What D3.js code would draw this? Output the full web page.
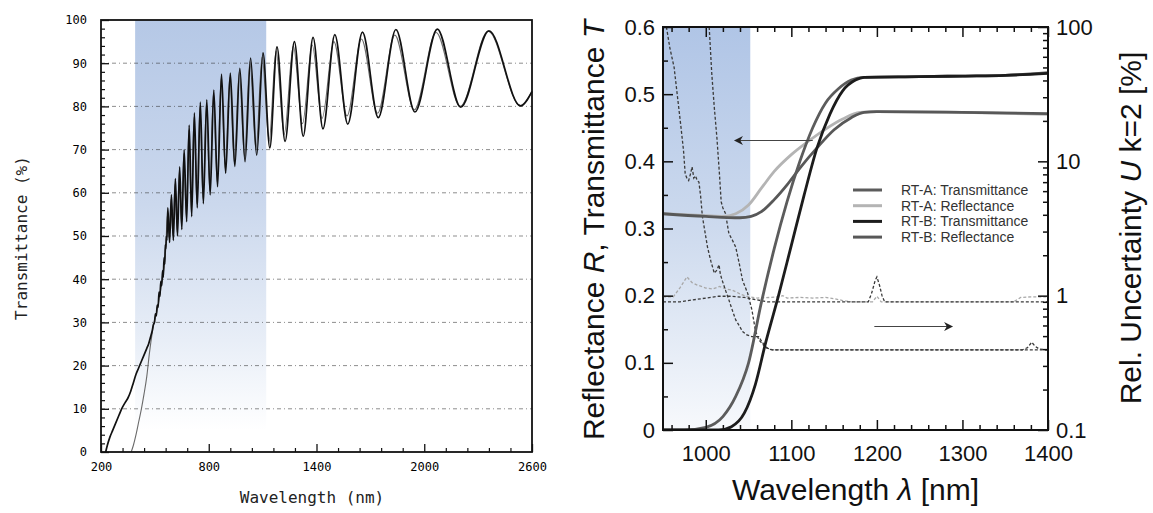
<!DOCTYPE html>
<html><head><meta charset="utf-8">
<script src="https://cdn.jsdelivr.net/npm/d3@7"></script>
<style>html,body{margin:0;padding:0;background:#fff;}svg{display:block;}</style>
</head><body>
<script>
// ---------- LEFT CHART DATA (wavelength nm, transmittance %) ----------
const leftXTicks = [200, 800, 1400, 2000, 2600];
const leftYTicks = [0,10,20,30,40,50,60,70,80,90,100];
const leftShade = [390, 1120];
const leftThick = [[226,0],[235,1.5],[250,3.5],[265,5],[280,6.5],[300,8.5],[315,10],[335,11.5],[350,12.5],[365,14],[380,16],[395,18],[410,19.5],[425,21],[440,22.5],[455,24],[465,25],[475,26.5],[485,28],[492,29.5],[498,30],[503,32],[508,31.5],[513,34],[518,33.5],[523,37],[528,36],[533,39.5],[538,38.5],[543,42],[547,40.5],[551,45],[555,43.5],[558,48],[561,47],[564,50],[567,49],[572,56.5],[582,48.5],[592,59.5],[603,49],[614,63.3],[626,50],[638,66],[650,51.5],[663,70],[677,53.3],[691,75.7],[705,54.5],[720,78.5],[736,56.5],[753,81],[770,57.5],[789,81.5],[808,59.5],[828,83.8],[849,61.4],[871,87.5],[894,64.5],[920,87.7],[945,66.1],[973,88.8],[1002,67.2],[1033,91.2],[1067,68.7],[1102,92.4],[1140,70.4],[1180,93.8],[1225,71.9],[1277,95],[1326,73.1],[1381,96],[1436,74.8],[1502,96.6],[1574,75.9],[1656,97.2],[1744,77.4],[1842,97.8],[1948,78.7],[2073,97.9],[2203,79.8],[2360,97.5],[2536,80.1],[2600,83.5]];
const leftThin = [[368,0],[380,1.5],[395,4],[410,7],[425,10],[440,13.5],[455,17.5],[470,23],[485,27.5],[498,30.5],[508,32],[518,34],[528,36.5],[538,39],[547,41.5],[555,44],[561,47.5],[570,55],[580,49.5],[590,58.5],[601,50],[612,62],[624,51],[636,65],[648,52.5],[661,69],[675,54.5],[689,74.5],[703,55.5],[718,77.5],[734,57.5],[751,80],[768,58.5],[787,80.5],[806,60.5],[826,83],[847,62.5],[869,86.5],[892,65.5],[917,86.8],[942,67.2],[970,88],[999,68.5],[1029,90.3],[1063,70],[1097,91.4],[1136,72],[1175,92.8],[1220,73.5],[1271,94],[1322,76],[1376,94.2],[1431,77.2],[1497,95],[1570,77.8],[1650,95.6],[1740,78.4],[1836,96.5],[1945,79.2],[2066,97.1],[2200,80],[2356,97.4],[2534,80.2],[2600,83.4]];

// ---------- RIGHT CHART DATA ----------
const rightXTicks = [1000, 1100, 1200, 1300, 1400];
const rightYTicks = [0, 0.1, 0.2, 0.3, 0.4, 0.5, 0.6];
const rightUTicks = [0.1, 1, 10, 100];
const rightShade = [950, 1052];
const seriesNames = ["RT-A: Transmittance", "RT-A: Reflectance", "RT-B: Transmittance", "RT-B: Reflectance"];
const rtaT = [[950,0],[975,0],[1000,0.004],[1020,0.02],[1035,0.05],[1050,0.1],[1065,0.19],[1080,0.27],[1095,0.34],[1110,0.4],[1125,0.45],[1140,0.487],[1155,0.508],[1170,0.521],[1185,0.525],[1250,0.526],[1300,0.527],[1350,0.528],[1400,0.532]];
const rtaR = [[950,0.322],[1000,0.319],[1020,0.318],[1035,0.322],[1050,0.335],[1065,0.36],[1080,0.385],[1100,0.41],[1120,0.43],[1140,0.448],[1160,0.463],[1180,0.473],[1200,0.474],[1300,0.473],[1400,0.47]];
const rtbT = [[950,0],[1015,0],[1030,0.005],[1045,0.025],[1058,0.068],[1070,0.13],[1085,0.2],[1100,0.275],[1115,0.35],[1130,0.42],[1145,0.47],[1160,0.505],[1175,0.521],[1185,0.525],[1250,0.526],[1300,0.527],[1350,0.528],[1400,0.531]];
const rtbR = [[950,0.322],[1000,0.318],[1040,0.316],[1053,0.318],[1065,0.325],[1080,0.343],[1095,0.365],[1110,0.39],[1130,0.42],[1150,0.447],[1170,0.465],[1185,0.473],[1200,0.474],[1300,0.473],[1400,0.471]];
const unc1 = [[1004,100],[1007,45],[1010,25],[1013,15],[1016,8],[1018,5],[1020,4.5],[1023,4.1],[1027,2.9],[1031,2.6],[1035,2.3],[1039,1.75],[1043,1.3],[1049,1.04],[1054,0.78],[1058,0.55],[1062,0.47],[1066,0.44],[1070,0.41],[1078,0.395],[1200,0.395],[1370,0.395],[1376,0.41],[1381,0.45],[1385,0.42],[1390,0.4],[1400,0.395]];
const unc2 = [[954,100],[958,70],[963,50],[967,30],[971,18],[974,12],[976,8],[978,7.5],[980,7.2],[982,8],[984,9.1],[986,7.5],[988,7.8],[990,7.2],[992,7],[994,5.5],[996,3.9],[999,3],[1002,2.3],[1006,1.8],[1010,1.47],[1013,1.55],[1015.5,1.7],[1017,1.45],[1019,1.31],[1023,1.1],[1027,0.93],[1031,0.78],[1035,0.66],[1039,0.6],[1043,0.54],[1048,0.51],[1054,0.495],[1062,0.495],[1066,0.45],[1070,0.417],[1074,0.4],[1078,0.395],[1400,0.395]];
const unc3 = [[950,0.9],[970,0.9],[985,0.93],[1000,0.96],[1015,0.99],[1030,0.99],[1045,0.97],[1060,0.93],[1072,0.9],[1190,0.9],[1194,1.05],[1198,1.3],[1200,1.38],[1203,1.2],[1206,1.0],[1209,0.9],[1400,0.9]];
const unc4 = [[950,0.98],[962,0.98],[970,1.15],[978,1.38],[984,1.25],[990,1.2],[1000,1.14],[1008,1.12],[1016,1.17],[1024,1.12],[1031,1.1],[1040,1.03],[1047,0.99],[1060,0.96],[1075,0.97],[1085,0.98],[1090,1.0],[1095,0.96],[1110,0.97],[1125,0.96],[1140,0.97],[1150,0.95],[1160,0.92],[1170,0.9],[1195,0.9],[1200,0.99],[1205,0.9],[1360,0.9],[1368,0.97],[1380,0.98],[1400,0.98]];
const arrowLeft = [[1125,0.431],[1034,0.431]];
const arrowRight = [[1197,0.154],[1288,0.154]];

const W = 1153, H = 513;
const svg = d3.select("body").append("svg").attr("width", W).attr("height", H);
svg.append("rect").attr("width", W).attr("height", H).attr("fill", "#fff");
const defs = svg.append("defs");

// ================= LEFT CHART =================
const L = {x0:101, x1:532, y0:20, y1:452};
const xL = d3.scaleLinear().domain([200, 2600]).range([L.x0, L.x1]);
const yL = d3.scaleLinear().domain([0, 100]).range([L.y1, L.y0]);
const monoFont = "'DejaVu Sans Mono', 'Liberation Mono', monospace";

const gL = defs.append("linearGradient").attr("id","gradL").attr("x1",0).attr("y1",0).attr("x2",0).attr("y2",1);
gL.append("stop").attr("offset","0").attr("stop-color","rgb(181,200,230)");
gL.append("stop").attr("offset","0.45").attr("stop-color","rgb(203,216,237)");
gL.append("stop").attr("offset","0.78").attr("stop-color","rgb(232,238,247)");
gL.append("stop").attr("offset","1").attr("stop-color","rgb(255,255,255)");
svg.append("rect").attr("x", xL(leftShade[0])).attr("y", yL(100))
  .attr("width", xL(leftShade[1]) - xL(leftShade[0])).attr("height", yL(5) - yL(100))
  .attr("fill", "url(#gradL)");

// gridlines
svg.append("g").selectAll("line").data(leftYTicks.filter(d => d > 0 && d < 100)).join("line")
  .attr("x1", L.x0).attr("x2", L.x1).attr("y1", d => yL(d)).attr("y2", d => yL(d))
  .attr("stroke", "#333").attr("stroke-width", 1).attr("stroke-dasharray", "4,3,1,3").attr("opacity", 0.55);

const lineL = d3.line().x(d => xL(d[0])).y(d => yL(d[1])).curve(d3.curveMonotoneX);
svg.append("path").attr("d", lineL(leftThin)).attr("fill","none").attr("stroke","#6a6a6a").attr("stroke-width",1.1);
svg.append("path").attr("d", lineL(leftThick)).attr("fill","none").attr("stroke","#111").attr("stroke-width",1.7);

// axes
const axL = svg.append("g").attr("transform", `translate(${L.x0},0)`)
  .call(d3.axisLeft(yL).tickValues(leftYTicks).tickSizeInner(-8).tickSizeOuter(0).tickPadding(14).tickFormat(d3.format("d")));
axL.select(".domain").remove();
axL.selectAll("line").attr("stroke","#111").attr("stroke-width",1.3);
axL.selectAll("text").attr("font-family", monoFont).attr("font-size", 12).attr("fill","#000");
const axLm = svg.append("g").attr("transform", `translate(${L.x0},0)`)
  .call(d3.axisLeft(yL).tickValues(d3.range(0, 101, 2).filter(d => d % 10 !== 0)).tickSizeInner(-4).tickSizeOuter(0).tickFormat(""));
axLm.select(".domain").remove();
axLm.selectAll("line").attr("stroke","#111").attr("stroke-width",1.2);

const axB = svg.append("g").attr("transform", `translate(0,${L.y1})`)
  .call(d3.axisBottom(xL).tickValues(leftXTicks).tickSizeInner(-8).tickSizeOuter(0).tickPadding(10).tickFormat(d3.format("d")));
axB.select(".domain").remove();
axB.selectAll("line").attr("stroke","#111").attr("stroke-width",1.3);
axB.selectAll("text").attr("font-family", monoFont).attr("font-size", 12).attr("fill","#000");
const axBm = svg.append("g").attr("transform", `translate(0,${L.y1})`)
  .call(d3.axisBottom(xL).tickValues(d3.range(320, 2600, 120).filter(d => (d - 200) % 600 !== 0)).tickSizeInner(-4).tickSizeOuter(0).tickFormat(""));
axBm.select(".domain").remove();
axBm.selectAll("line").attr("stroke","#111").attr("stroke-width",1.2);

svg.append("rect").attr("x", L.x0).attr("y", L.y0).attr("width", L.x1 - L.x0).attr("height", L.y1 - L.y0)
  .attr("fill","none").attr("stroke","#111").attr("stroke-width",1.8);

svg.append("text").attr("transform", `translate(27,238) rotate(-90)`).attr("text-anchor","middle")
  .attr("font-family", monoFont).attr("font-size", 16).attr("fill","#222").text("Transmittance (%)");
svg.append("text").attr("x", 312).attr("y", 503).attr("text-anchor","middle")
  .attr("font-family", monoFont).attr("font-size", 16).attr("fill","#222").text("Wavelength (nm)");

// ================= RIGHT CHART =================
const R = {x0:663, x1:1048, y0:27, y1:430};
const xR = d3.scaleLinear().domain([950, 1400]).range([R.x0, R.x1]);
const yR = d3.scaleLinear().domain([0, 0.6]).range([R.y1, R.y0]);
const yU = d3.scaleLog().domain([0.1, 100]).range([R.y1, R.y0]);
const sans = "'Liberation Sans', Arial, Helvetica, sans-serif";

const gR = defs.append("linearGradient").attr("id","gradR").attr("x1",0).attr("y1",0).attr("x2",0).attr("y2",1);
gR.append("stop").attr("offset","0").attr("stop-color","rgb(176,197,230)");
gR.append("stop").attr("offset","0.5").attr("stop-color","rgb(205,218,238)");
gR.append("stop").attr("offset","1").attr("stop-color","rgb(247,249,252)");
svg.append("rect").attr("x", xR(rightShade[0])).attr("y", R.y0)
  .attr("width", xR(rightShade[1]) - xR(rightShade[0])).attr("height", R.y1 - R.y0)
  .attr("fill", "url(#gradR)");

defs.append("clipPath").attr("id","clipR").append("rect")
  .attr("x", R.x0).attr("y", R.y0).attr("width", R.x1 - R.x0).attr("height", R.y1 - R.y0);
const plotR = svg.append("g").attr("clip-path","url(#clipR)");

const lineU = d3.line().x(d => xR(d[0])).y(d => yU(d[1]));
[[unc4,"#a8a8a8"],[unc3,"#3a3a3a"],[unc2,"#3a3a3a"],[unc1,"#3a3a3a"]].forEach(([data, col]) => {
  plotR.append("path").attr("d", lineU(data)).attr("fill","none").attr("stroke", col)
    .attr("stroke-width", 1.3).attr("stroke-dasharray","3,2");
});

const lineR = d3.line().x(d => xR(d[0])).y(d => yR(d[1])).curve(d3.curveMonotoneX);
const colors = ["#5c5c5c", "#b4b4b4", "#1c1c1c", "#585858"];
const seriesData = [rtaT, rtaR, rtbT, rtbR];
[1,3,0,2].forEach(i => {
  plotR.append("path").attr("d", lineR(seriesData[i])).attr("fill","none").attr("stroke", colors[i])
    .attr("stroke-width", 2.8).attr("stroke-linecap","round");
});

// arrows
const mk = defs.append("marker").attr("id","arrowHead").attr("viewBox","0 0 10 10").attr("refX",9).attr("refY",5)
  .attr("markerWidth",9).attr("markerHeight",9).attr("markerUnits","userSpaceOnUse").attr("orient","auto");
mk.append("path").attr("d","M0,0 L10,5 L0,10 L3,5 Z").attr("fill","#222");
[arrowLeft, arrowRight].forEach(a => {
  svg.append("line").attr("x1", xR(a[0][0])).attr("y1", yR(a[0][1])).attr("x2", xR(a[1][0])).attr("y2", yR(a[1][1]))
    .attr("stroke","#444").attr("stroke-width",1.1).attr("marker-end","url(#arrowHead)");
});

// legend
const leg = svg.append("g").attr("transform","translate(853,190)");
seriesNames.forEach((name, i) => {
  leg.append("line").attr("x1",0).attr("x2",29).attr("y1", i*15.7).attr("y2", i*15.7)
    .attr("stroke", colors[i]).attr("stroke-width", 3);
  leg.append("text").attr("x", 48).attr("y", i*15.7 + 5).attr("font-family", sans).attr("font-size", 14)
    .attr("fill","#333").text(name);
});

// axes
function styleAxis(g, fs) {
  g.select(".domain").remove();
  g.selectAll("line").attr("stroke","#111").attr("stroke-width",1.5);
  g.selectAll("text").attr("font-family", sans).attr("font-size", fs).attr("fill","#111");
}
const minorX = d3.range(960, 1400, 20).filter(d => d % 100 !== 0);
styleAxis(svg.append("g").attr("transform",`translate(0,${R.y1})`)
  .call(d3.axisBottom(xR).tickValues(rightXTicks).tickSizeInner(-10).tickSizeOuter(0).tickPadding(15).tickFormat(d3.format("d"))), 22);
styleAxis(svg.append("g").attr("transform",`translate(0,${R.y1})`)
  .call(d3.axisBottom(xR).tickValues(minorX).tickSizeInner(-5).tickSizeOuter(0).tickFormat("")), 22);
styleAxis(svg.append("g").attr("transform",`translate(0,${R.y0})`)
  .call(d3.axisTop(xR).tickValues(rightXTicks).tickSizeInner(-10).tickSizeOuter(0).tickFormat("")), 22);
styleAxis(svg.append("g").attr("transform",`translate(0,${R.y0})`)
  .call(d3.axisTop(xR).tickValues(minorX).tickSizeInner(-5).tickSizeOuter(0).tickFormat("")), 22);
styleAxis(svg.append("g").attr("transform",`translate(${R.x0},0)`)
  .call(d3.axisLeft(yR).tickValues(rightYTicks).tickSizeInner(-10).tickSizeOuter(0).tickPadding(8)
  .tickFormat(d => d === 0 ? "0" : d3.format(".1f")(d))), 22);
styleAxis(svg.append("g").attr("transform",`translate(${R.x0},0)`)
  .call(d3.axisLeft(yR).tickValues([0.05,0.15,0.25,0.35,0.45,0.55]).tickSizeInner(-5).tickSizeOuter(0).tickFormat("")), 22);
styleAxis(svg.append("g").attr("transform",`translate(${R.x1},0)`)
  .call(d3.axisRight(yU).tickValues(rightUTicks).tickSizeInner(-10).tickSizeOuter(0).tickPadding(8)
  .tickFormat(d => d < 1 ? "0.1" : String(d))), 22);
const minorU = [];
[0.1, 1, 10].forEach(dec => { for (let k = 2; k <= 9; k++) minorU.push(dec * k); });
styleAxis(svg.append("g").attr("transform",`translate(${R.x1},0)`)
  .call(d3.axisRight(yU).tickValues(minorU).tickSizeInner(-5).tickSizeOuter(0).tickFormat("")), 22);

svg.append("rect").attr("x", R.x0).attr("y", R.y0).attr("width", R.x1 - R.x0).attr("height", R.y1 - R.y0)
  .attr("fill","none").attr("stroke","#111").attr("stroke-width",2);

// axis titles
const tL = svg.append("text").attr("transform",`translate(604,230) rotate(-90)`).attr("text-anchor","middle")
  .attr("font-family", sans).attr("font-size", 30).attr("fill","#111");
tL.append("tspan").text("Reflectance ");
tL.append("tspan").attr("font-style","italic").text("R");
tL.append("tspan").text(", Transmittance ");
tL.append("tspan").attr("font-style","italic").text("T");

const tR = svg.append("text").attr("transform",`translate(1141,228) rotate(-90)`).attr("text-anchor","middle")
  .attr("font-family", sans).attr("font-size", 30).attr("fill","#111");
tR.append("tspan").text("Rel. Uncertainty ");
tR.append("tspan").attr("font-style","italic").text("U");
tR.append("tspan").text(" k=2 [%]");

const tX = svg.append("text").attr("x", (R.x0 + R.x1) / 2).attr("y", 500).attr("text-anchor","middle")
  .attr("font-family", sans).attr("font-size", 30).attr("fill","#111");
tX.append("tspan").text("Wavelength ");
tX.append("tspan").attr("font-style","italic").text("λ");
tX.append("tspan").text(" [nm]");
</script>
</body></html>
